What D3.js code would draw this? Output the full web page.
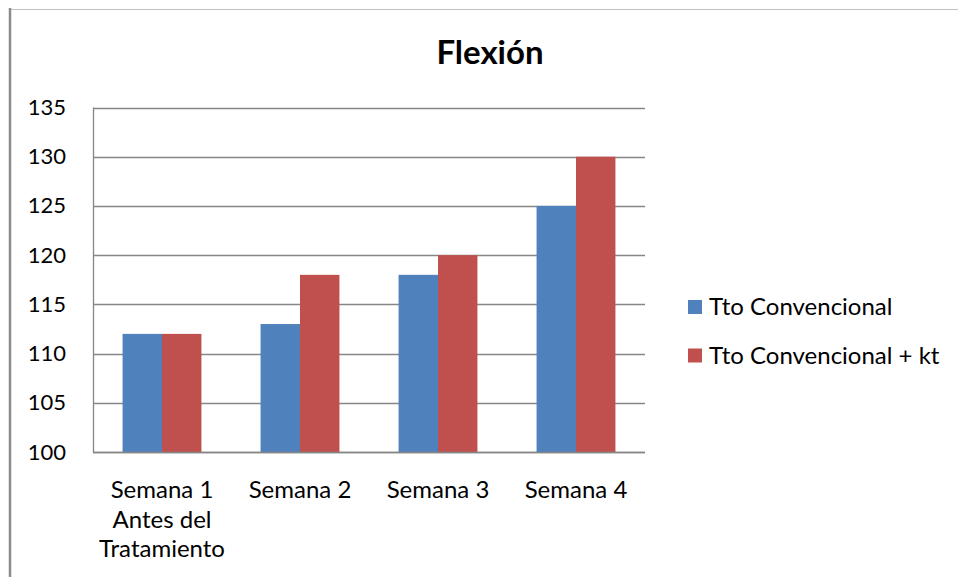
<!DOCTYPE html>
<html>
<head>
<meta charset="utf-8">
<script src="https://cdn.jsdelivr.net/npm/d3@7"></script>
<style>
  html, body { margin: 0; padding: 0; background: #fff; }
  svg { display: block; }
  text { font-family: Lato, "Open Sans", sans-serif; fill: #000; }
</style>
</head>
<body>
<svg id="chart" width="958" height="577"></svg>
<script>
// Range of motion (flexion) per week for both treatment groups
const categories = [
  ["Semana 1", "Antes del", "Tratamiento"],
  ["Semana 2"],
  ["Semana 3"],
  ["Semana 4"]
];
const seriesNames = ["Tto Convencional", "Tto Convencional + kt"];
const convencional = [112, 113, 118, 125];
const convencionalKt = [112, 118, 120, 130];
const yTicks = [100, 105, 110, 115, 120, 125, 130, 135];
const colors = ["#4F81BD", "#C0504D"];

const svg = d3.select("#chart");
const W = 958, H = 577;
const plot = { left: 93, right: 645, top: 107.5, bottom: 452 };

// outer frame (partially visible chart border)
svg.append("line").attr("x1", 10).attr("x2", W).attr("y1", 9.5).attr("y2", 9.5)
  .attr("stroke", "#c0c0c0").attr("stroke-width", 1);
svg.append("line").attr("x1", 10).attr("x2", 10).attr("y1", 8).attr("y2", H)
  .attr("stroke", "#8c8c8c").attr("stroke-width", 2.5);

// title
svg.append("text").attr("x", 490).attr("y", 64).attr("text-anchor", "middle")
  .style("font-weight", "bold").style("font-size", "33px").text("Flexión");

// group positions: each category band holds two bars with a 150% gap
const band = (plot.right - plot.left) / categories.length;
const groupX = d3.scaleLinear().domain([0, categories.length]).range([plot.left, plot.right]);
const barW = band / 3.5;
const x1 = d3.scaleBand().domain(d3.range(seriesNames.length)).range([0, barW * 2]);

const y = d3.scaleLinear().domain([100, 135]).range([plot.bottom, plot.top]);

// gridlines
svg.append("g").selectAll("line").data(yTicks).join("line")
  .attr("x1", plot.left).attr("x2", plot.right)
  .attr("y1", d => Math.round(y(d)) + 0.5).attr("y2", d => Math.round(y(d)) + 0.5)
  .attr("stroke", "#868686").attr("stroke-width", 1.3);

// bars
const series = [convencional, convencionalKt];
series.forEach((vals, s) => {
  svg.append("g").selectAll("rect").data(vals).join("rect")
    .attr("x", (d, i) => groupX(i) + barW * 0.75 + x1(s))
    .attr("width", x1.bandwidth())
    .attr("y", d => y(d))
    .attr("height", d => y(100) - y(d))
    .attr("fill", colors[s]);
});

// axis lines
svg.append("line").attr("x1", plot.left + 0.5).attr("x2", plot.left + 0.5)
  .attr("y1", y(135)).attr("y2", y(100) + 1).attr("stroke", "#868686").attr("stroke-width", 1.3);
svg.append("line").attr("x1", plot.left).attr("x2", plot.right)
  .attr("y1", Math.round(y(100)) + 0.5).attr("y2", Math.round(y(100)) + 0.5)
  .attr("stroke", "#868686").attr("stroke-width", 1.3);

// y tick labels
svg.append("g").selectAll("text").data(yTicks).join("text")
  .attr("x", 66).attr("y", d => y(d) + 7.5)
  .attr("text-anchor", "end").style("font-size", "22px").text(d => d);

// x category labels
const xl = svg.append("g").selectAll("text").data(categories).join("text")
  .attr("text-anchor", "middle").style("font-size", "24px")
  .attr("transform", (d, i) => `translate(${groupX(i) + band / 2},498)`);
xl.selectAll("tspan").data(d => d).join("tspan")
  .attr("x", 0).attr("y", (d, j) => j * 29.5).text(d => d);

// legend
const lg = svg.append("g").selectAll("g").data(seriesNames).join("g")
  .attr("transform", (d, i) => `translate(688,${300 + i * 48.5})`);
lg.append("rect").attr("width", 14).attr("height", 14).attr("fill", (d, i) => colors[i]);
lg.append("text").attr("x", 21).attr("y", 15).style("font-size", "24px").text(d => d);
</script>
</body>
</html>
